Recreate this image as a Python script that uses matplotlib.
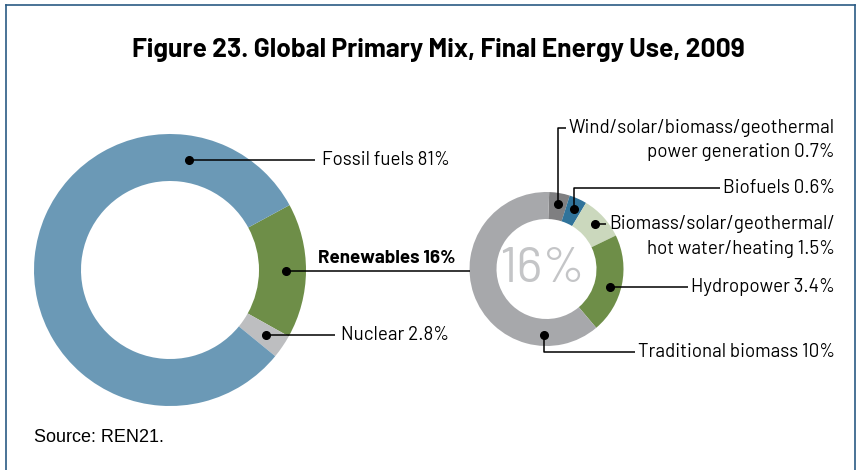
import numpy as np
import matplotlib.pyplot as plt
from matplotlib import font_manager as fm

W, H = 859, 470

# Global primary mix, final energy use 2009 (%)
mix_labels = ["Renewables 16%", "Nuclear 2.8%", "Fossil fuels 81%"]
mix_shares = [16, 2.8, 81]
mix_colors = ["#6e8e48", "#bdbec0", "#6b99b6"]

# Renewables share broken down (%)
ren_labels = ["Wind/solar/biomass/geothermal\npower generation 0.7%",
              "Biofuels 0.6%",
              "Biomass/solar/geothermal/\nhot water/heating 1.5%",
              "Hydropower 3.4%",
              "Traditional biomass 10%"]
ren_shares = [0.7, 0.6, 1.5, 3.4, 10]
ren_colors = ["#7f7f81", "#30739a", "#cbd8bd", "#6e8e48", "#a7a8ab"]
ren_total = "16%"

title = "Figure 23. Global Primary Mix, Final Energy Use, 2009"
source = "Source: REN21."

installed = {f.name for f in fm.fontManager.ttflist}
face = next(n for n in ["Barlow", "Barlow Semi Condensed", "DejaVu Sans"] if n in installed)
plt.rcParams["font.family"] = [face, "DejaVu Sans"]


def polar(c, r, deg):
    a = np.deg2rad(deg)
    return c[0] + r * np.cos(a), c[1] + r * np.sin(a)


def mid(w):
    return (w.theta1 + w.theta2) / 2


fig = plt.figure(figsize=(W / 100, H / 100), dpi=100)
ax = fig.add_axes([0, 0, 1, 1])

big_c, big_r = (170, H - 270), 136
small_c, small_r = (546.5, H - 269), 77

big, _ = ax.pie(mix_shares, colors=mix_colors, center=big_c, radius=big_r,
                startangle=28.5, counterclock=False,
                wedgeprops=dict(width=47, linewidth=0))
small, _ = ax.pie(ren_shares, colors=ren_colors, center=small_c, radius=small_r,
                  startangle=88, counterclock=False,
                  wedgeprops=dict(width=27, linewidth=0))
ax.set_xlim(0, W)
ax.set_ylim(0, H)
ax.set_aspect("auto")
ax.axis("off")

ax.text(small_c[0] - 4, small_c[1], ren_total, fontsize=36, color="#c4c5c7",
        ha="center", va="center")

lkw = dict(color="black", lw=1.1, solid_capstyle="butt")
dkw = dict(marker="o", ms=5.5, color="black", ls="none", zorder=5)
fs = 13.5

# big ring labels
x, y = polar(big_c, 112, 80)
ax.plot(x, y, **dkw)
ax.plot([x, 315], [y, y], **lkw)
ax.text(322, y, mix_labels[2], fontsize=fs, ha="left", va="center")

x, y = polar(big_c, 116, mid(big[0]))
ax.plot(x, y, **dkw)
ax.plot([x, small_c[0] - small_r], [y, y], **lkw)
ax.text(455, y + 4, mix_labels[0], fontsize=fs, fontweight="bold",
        ha="right", va="bottom")

x, y = polar(big_c, 116, mid(big[1]))
ax.plot(x, y, **dkw)
ax.plot([x, 335], [y, y], **lkw)
ax.text(341, y, mix_labels[1], fontsize=fs, ha="left", va="center")

# small ring labels, right aligned
fig.canvas.draw()
rend = fig.canvas.get_renderer()
inv = ax.transData.inverted()
label_y = [H - 128, H - 188, None, None, H - 352]
dot_ang = [mid(small[0]), mid(small[1]), mid(small[2]), -16, -92]
for i, lab in enumerate(ren_labels):
    x, y = polar(small_c, 66, dot_ang[i])
    ty = y if label_y[i] is None else label_y[i]
    ax.plot(x, y, **dkw)
    first = lab.split("\n")[0]
    t = ax.text(835, ty, lab, fontsize=fs, ha="right", va="top",
                multialignment="right", linespacing=1.45)
    # shift so the first line is centred on the leader
    probe = ax.text(835, ty, first, fontsize=fs, ha="right", va="center")
    pb = probe.get_window_extent(rend)
    tb = t.get_window_extent(rend)
    x0 = inv.transform((pb.x0, 0))[0]
    dy = inv.transform((0, pb.y1))[1] - inv.transform((0, tb.y1))[1]
    probe.remove()
    t.set_y(ty + dy)
    if label_y[i] is None:
        ax.plot([x, x0 - 3], [y, y], **lkw)
    else:
        ax.plot([x, x, x0 - 3], [y, ty, ty], **lkw)

ax.text(438, H - 50, title, fontsize=19, fontweight="bold",
        ha="center", va="center")
ax.text(34, H - 437, source, fontsize=13, ha="left", va="center",
        family=["Liberation Sans", "DejaVu Sans"])

# frame on three sides
fkw = dict(color="#2b5b84", lw=1.2, clip_on=False)
ax.plot([5.5, 5.5], [0, H - 5], **fkw)
ax.plot([5.5, 854.5], [H - 5, H - 5], **fkw)
ax.plot([854.5, 854.5], [H - 5, 0], **fkw)

fig.savefig("out.png", dpi=100)
